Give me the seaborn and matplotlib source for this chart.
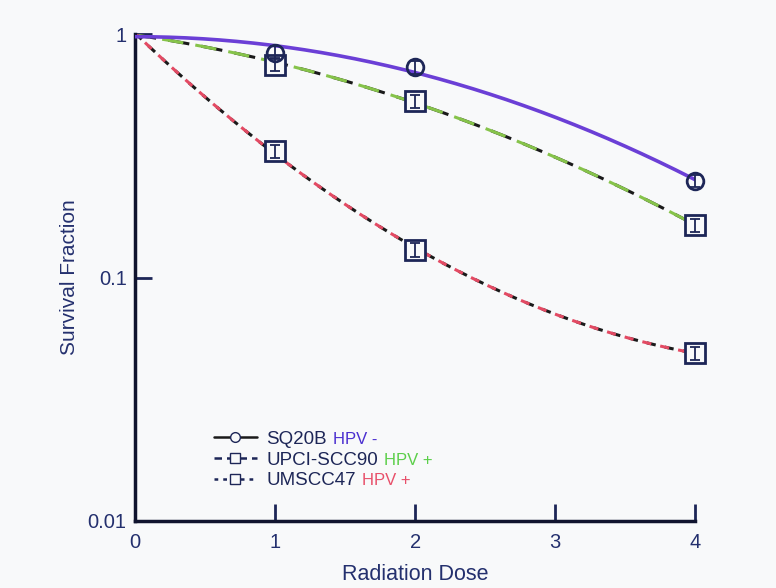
import matplotlib
matplotlib.use("Agg")
import matplotlib.pyplot as plt
import matplotlib.ticker as mtick
import numpy as np
import pandas as pd
import seaborn as sns

dose = [0, 1, 2, 4]
sq20b = [1.0, 0.84, 0.73, 0.25]
upci = [1.0, 0.75, 0.53, 0.164]
umscc = [1.0, 0.33, 0.13, 0.049]
err_sq = [0.0, 0.05, 0.045, 0.015]
err_upci = [0.0, 0.045, 0.032, 0.01]
err_um = [0.0, 0.02, 0.008, 0.003]
names = ["SQ20B", "UPCI-SCC90", "UMSCC47"]
hpv = ["HPV -", "HPV +", "HPV +"]

navy = "#1d2657"
text_c = "#24306e"
bg = "#f8f9fa"

sns.set_style("ticks")
plt.rcParams["font.family"] = ["Liberation Sans", "DejaVu Sans"]

fig = plt.figure(figsize=(7.76, 5.88), dpi=100, facecolor=bg)
ax = fig.add_axes([0.174, 0.114, 0.722, 0.828], facecolor=bg)
ax.set_yscale("log")

# fitted curves (quadratic in log survival)
xx = np.linspace(0, 4, 200)
fits = {}
for name, vals in zip(names, [sq20b, upci, umscc]):
    c = np.polyfit(dose, np.log(vals), 2)
    fits[name] = np.exp(np.polyval(c, xx))
curves = pd.DataFrame({"dose": xx, **fits})

sns.lineplot(data=curves, x="dose", y="SQ20B", ax=ax, color="#6b3fd6", lw=2.6, zorder=3)
sns.lineplot(data=curves, x="dose", y="UPCI-SCC90", ax=ax, color="#1a1a1a", lw=2.2,
             linestyle=(0, (7, 4)), zorder=2)
sns.lineplot(data=curves, x="dose", y="UPCI-SCC90", ax=ax, color="#86c34a", lw=2.2,
             linestyle=(2, (7, 4)), zorder=2)
sns.lineplot(data=curves, x="dose", y="UMSCC47", ax=ax, color="#1a1a1a", lw=2.2,
             linestyle=(0, (3, 3)), zorder=2)
sns.lineplot(data=curves, x="dose", y="UMSCC47", ax=ax, color="#e34a63", lw=2.2,
             linestyle=(1.5, (3, 3)), zorder=2)

# data points, then error bars on top
ax.plot(dose[1:], sq20b[1:], "o", ms=12, mfc="none", mec=navy, mew=2,
        zorder=5, clip_on=False)
ax.plot(dose[1:], upci[1:], "s", ms=14, mfc=bg, mec=navy, mew=2, zorder=4, clip_on=False)
ax.plot(dose[1:], umscc[1:], "s", ms=14, mfc=bg, mec=navy, mew=2, zorder=4, clip_on=False)
for vals, e in [(sq20b, err_sq), (upci, err_upci), (umscc, err_um)]:
    ax.errorbar(dose[1:], vals[1:], yerr=e[1:], fmt="none", ecolor=navy,
                elinewidth=1.3, capsize=3.5, capthick=1.3, zorder=6, clip_on=False)

ax.set_xlim(0, 4)
ax.set_ylim(0.01, 1)
ax.set_xticks([0, 1, 2, 3, 4])
ax.set_yticks([0.01, 0.1, 1])
ax.yaxis.set_major_formatter(mtick.FuncFormatter(lambda v, p: f"{v:g}"))
ax.yaxis.set_minor_locator(mtick.NullLocator())
ax.tick_params(direction="in", length=12, width=2, color=navy, labelcolor=text_c,
               labelsize=14.5, pad=6)
ax.tick_params(axis="x", pad=9)
for s in ["left", "bottom"]:
    ax.spines[s].set_linewidth(2.5)
    ax.spines[s].set_color("#10142e")
sns.despine(ax=ax)
ax.set_xlabel("Radiation Dose", color=text_c, fontsize=15.5, labelpad=8)
ax.set_ylabel("Survival Fraction", color=text_c, fontsize=15, labelpad=6)

# legend
h1, = ax.plot([], [], color="#1a1a1a", lw=1.8, marker="o", ms=7, mfc=bg, mec=navy)
h2, = ax.plot([], [], color=navy, lw=1.8, ls=(0, (3, 2)), marker="s", ms=7, mfc=bg, mec=navy)
h3, = ax.plot([], [], color=navy, lw=1.8, ls=(0, (1.5, 2)), marker="s", ms=7, mfc=bg, mec=navy)
leg = ax.legend([h1, h2, h3], names, loc="lower left",
                bbox_to_anchor=(0.11, 0.03), frameon=False, fontsize=13.5,
                handlelength=2.3, labelspacing=0.2, handletextpad=0.5)
for t in leg.get_texts():
    t.set_color(navy)

fig.canvas.draw()
hpv_colors = ["#4b2fd0", "#5ccf4a", "#e8506a"]
inv = fig.transFigure.inverted()
for t, lab, c in zip(leg.get_texts(), hpv, hpv_colors):
    bb = t.get_window_extent()
    x0, y0 = inv.transform((bb.x1 + 6, (bb.y0 + bb.y1) / 2))
    fig.text(x0, y0, lab, color=c, fontsize=12, va="center", ha="left")

fig.savefig("out.png", dpi=100, facecolor=bg)
